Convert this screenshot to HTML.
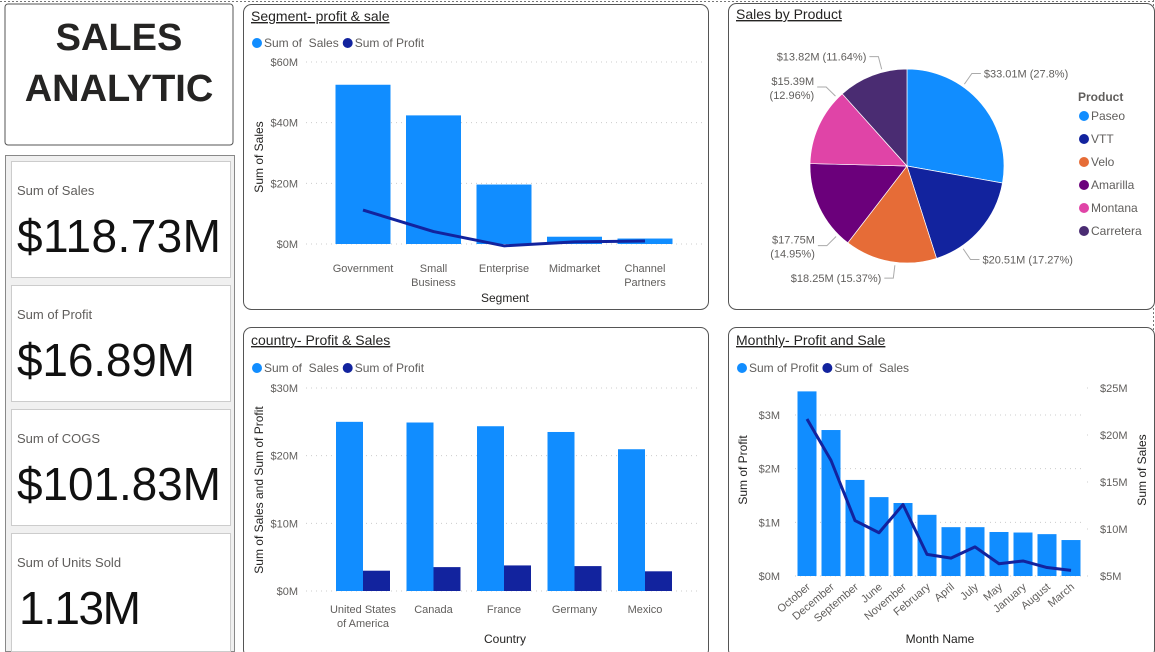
<!DOCTYPE html>
<html><head><meta charset="utf-8"><style>
html,body{margin:0;padding:0;background:#fff;}
svg{display:block;font-family:"Liberation Sans",sans-serif;}
.t{fill:#605e5c;font-size:11px;}
.lg{fill:#605e5c;font-size:12px;white-space:pre;}
.h{fill:#252423;font-size:14px;text-decoration:underline;}
.ax{fill:#252423;font-size:12px;}
</style></head><body>
<svg id="root" width="1155" height="652" viewBox="0 0 1155 652" xmlns="http://www.w3.org/2000/svg">
<line x1="0" y1="1.5" x2="1155" y2="1.5" stroke="#777" stroke-dasharray="2,2"/>
<line x1="1153.5" y1="0" x2="1153.5" y2="652" stroke="#777" stroke-dasharray="2,2"/>
<g>
<rect x="5" y="4" width="228" height="141" rx="3" fill="#fff" stroke="#555" stroke-width="1"/>
<text x="119" y="50" text-anchor="middle" font-size="38" font-weight="bold" fill="#252423">SALES</text>
<text x="119" y="101" text-anchor="middle" font-size="38" font-weight="bold" fill="#252423">ANALYTIC</text>
</g>
<rect x="5.5" y="155.5" width="229" height="496" fill="#f0f0f0" stroke="#888"/>
<g><rect x="11.5" y="161.5" width="219" height="116" fill="#fff" stroke="#ccc"/>
<text x="17" y="195" font-size="13" fill="#605e5c">Sum of Sales</text>
<text x="17" y="252" font-size="46" fill="#111" textLength="204">$118.73M</text></g>
<g><rect x="11.5" y="285.5" width="219" height="116" fill="#fff" stroke="#ccc"/>
<text x="17" y="319" font-size="13" fill="#605e5c">Sum of Profit</text>
<text x="17" y="376" font-size="46" fill="#111" textLength="178">$16.89M</text></g>
<g><rect x="11.5" y="409.5" width="219" height="116" fill="#fff" stroke="#ccc"/>
<text x="17" y="443" font-size="13" fill="#605e5c">Sum of COGS</text>
<text x="17" y="500" font-size="46" fill="#111" textLength="204">$101.83M</text></g>
<g><rect x="11.5" y="533.5" width="219" height="118" fill="#fff" stroke="#ccc"/>
<text x="17" y="567" font-size="13" fill="#605e5c">Sum of Units Sold</text>
<text x="19" y="624" font-size="46" fill="#111" textLength="122">1.13M</text></g>
<rect x="243.5" y="4.5" width="465" height="305" rx="8" fill="#fff" stroke="#555"/>
<rect x="728.5" y="3.5" width="426" height="306" rx="8" fill="#fff" stroke="#555"/>
<rect x="243.5" y="327.5" width="465" height="330" rx="8" fill="#fff" stroke="#555"/>
<rect x="728.5" y="327.5" width="426" height="330" rx="8" fill="#fff" stroke="#555"/>
<text x="251" y="21" class="h">Segment- profit &amp; sale</text>
<text x="736" y="19" class="h">Sales by Product</text>
<text x="251" y="345" class="h">country- Profit &amp; Sales</text>
<text x="736" y="345" class="h">Monthly- Profit and Sale</text>
<g id="g"></g>
</svg>
<script>
// Segment chart data
const segCategories = [["Government"],["Small","Business"],["Enterprise"],["Midmarket"],["Channel","Partners"]];
const segSales = [52.5, 42.4, 19.6, 2.4, 1.8];
const segProfit = [11.2, 4.1, -0.6, 0.7, 1.0];
const segTicks = [0, 20, 40, 60];
// Country chart data
const ctryCategories = [["United States","of America"],["Canada"],["France"],["Germany"],["Mexico"]];
const ctrySales = [25.0, 24.9, 24.35, 23.5, 20.95];
const ctryProfit = [3.0, 3.53, 3.78, 3.68, 2.91];
const ctryTicks = [0, 10, 20, 30];
// Product pie data
const prodNames = ["Paseo","VTT","Velo","Amarilla","Montana","Carretera"];
const prodSales = [33.01, 20.51, 18.25, 17.75, 15.39, 13.82];
const prodColors = ["#118DFF","#12239E","#E66C37","#6B007B","#E044A7","#4A2C72"];
// Monthly data
const months = ["October","December","September","June","November","February","April","July","May","January","August","March"];
const monProfit = [3.44, 2.72, 1.79, 1.47, 1.36, 1.14, 0.91, 0.91, 0.82, 0.81, 0.78, 0.67];
const monSales = [21.7, 17.3, 10.9, 9.6, 12.6, 7.3, 6.9, 8.1, 6.3, 6.6, 5.9, 5.6];
const monProfitTicks = [0, 1, 2, 3];
const monSalesTicks = [5, 10, 15, 20, 25];

const NS = "http://www.w3.org/2000/svg";
const G = document.getElementById("g");
function mk(tag, attrs, parent, txt){
  const e = document.createElementNS(NS, tag);
  for (const k in attrs) e.setAttribute(k, attrs[k]);
  if (txt !== undefined) e.textContent = txt;
  (parent || G).appendChild(e);
  return e;
}
function legend(x, y, items){
  let cx = x;
  items.forEach(([label, col, nm]) => {
    const c = mk("circle", {cx: cx + 5, cy: y - 4, r: 5, fill: col});
    
    
    const t = mk("text", {x: cx + 12, y: y, class: "lg"}, G, label);
    
    
    let w = 0;
    try { w = t.getComputedTextLength(); } catch (e) { w = 0; }
    if (!w) w = label.length * 6;
    cx += 12 + w + 4;
  });
}
function gridY(ticks, yf, x1, x2, fmt, lx, anchor, nm){
  ticks.forEach(v => {
    const y = yf(v);
    const l = mk("line", {x1: x1, x2: x2, y1: y, y2: y, stroke: "#ccc", "stroke-dasharray": "1,4"});
    
    
    const t = mk("text", {x: lx, y: y + 4, class: "t", "text-anchor": anchor}, G, fmt(v));
    
    
  });
}
function vTitle(x, y, txt, nm){
  const t = mk("text", {x: 0, y: 0, class: "ax", "text-anchor": "middle", transform: `translate(${x},${y}) rotate(-90)`}, G, txt);
  
  
}
function hTitle(x, y, txt, nm){
  const t = mk("text", {x: x, y: y, class: "ax", "text-anchor": "middle"}, G, txt);
  
  
}
function catLabels(cats, xf, y, nm){
  cats.forEach((lines, i) => {
    lines.forEach((ln, j) => {
      const t = mk("text", {x: xf(i), y: y + j * 14, class: "t", "text-anchor": "middle"}, G, ln);
      
      
    });
  });
}

// ---------- Segment ----------
(function(){
  const y0 = 244, pxPer = 182 / 60;
  const yf = v => y0 - v * pxPer;
  const xf = i => 363 + i * 70.5;
  const bw = 55;
  legend(252, 47, [["Sum of  Sales", "#118DFF", "segment-sales"], ["Sum of Profit", "#12239E", "segment-profit"]]);
  gridY(segTicks, yf, 306, 705, v => "$" + v + "M", 298, "end", "segment-y");
  segSales.forEach((v, i) => {
    const r = mk("rect", {x: xf(i) - bw/2, y: Math.min(yf(v), y0), width: bw, height: Math.abs(v * pxPer), fill: "#118DFF"});
    
    
  });
  const p = mk("polyline", {points: segProfit.map((v, i) => xf(i) + "," + yf(v)).join(" "), fill: "none", stroke: "#12239E", "stroke-width": 3, "stroke-linejoin": "round"});
  
  
  catLabels(segCategories, xf, 272, "segment-x");
  vTitle(263, 157, "Sum of Sales", "segment-y-axis-title");
  hTitle(505, 302, "Segment", "segment-x-axis-title");
})();

// ---------- Country ----------
(function(){
  const y0 = 591, pxPer = 203 / 30;
  const yf = v => y0 - v * pxPer;
  const xf = i => 363 + i * 70.5;
  const bw = 27;
  legend(252, 372, [["Sum of  Sales", "#118DFF", "country-sales"], ["Sum of Profit", "#12239E", "country-profit"]]);
  gridY(ctryTicks, yf, 306, 700, v => "$" + v + "M", 298, "end", "country-y");
  ctrySales.forEach((v, i) => {
    const r = mk("rect", {x: xf(i) - bw, y: yf(v), width: bw, height: v * pxPer, fill: "#118DFF"});
    
    
  });
  ctryProfit.forEach((v, i) => {
    const r = mk("rect", {x: xf(i), y: yf(v), width: bw, height: v * pxPer, fill: "#12239E"});
    
    
  });
  catLabels(ctryCategories, xf, 613, "country-x");
  vTitle(263, 490, "Sum of Sales and Sum of Profit", "country-y-axis-title");
  hTitle(505, 643, "Country", "country-x-axis-title");
})();

// ---------- Pie ----------
(function(){
  const cx = 907, cy = 166, R = 97;
  const total = prodSales.reduce((a, b) => a + b, 0);
  let acc = 0;
  prodSales.forEach((v, i) => {
    const a0 = acc / total * 2 * Math.PI, a1 = (acc + v) / total * 2 * Math.PI;
    acc += v;
    const P = a => [cx + R * Math.sin(a), cy - R * Math.cos(a)];
    const [x0, y0] = P(a0), [x1, y1] = P(a1);
    const large = (a1 - a0) > Math.PI ? 1 : 0;
    const s = mk("path", {d: `M${cx},${cy} L${x0},${y0} A${R},${R} 0 ${large} 1 ${x1},${y1} Z`, fill: prodColors[i], stroke: "#fff", "stroke-width": 0.7});
    
    
    const am = (a0 + a1) / 2;
    const vert = Math.cos(am) >= 0 ? (am > Math.PI ? 2 * Math.PI : 0) : Math.PI;
    const al = am + (vert - am) * 0.3;
    const right = Math.sin(am) >= 0;
    const lx0 = cx + (R + 3) * Math.sin(al), ly0 = cy - (R + 3) * Math.cos(al);
    const lx1 = cx + (R + 16) * Math.sin(al), ly1 = cy - (R + 16) * Math.cos(al);
    const lx2 = lx1 + (right ? 9 : -9);
    const ln = mk("polyline", {points: `${lx0},${ly0} ${lx1},${ly1} ${lx2},${ly1}`, fill: "none", stroke: "#aaa"});
    
    
    const pct = (v / total * 100).toFixed(2).replace(/0$/, "");
    const tx = lx2 + (right ? 3 : -3), anchor = right ? "start" : "end";
    const twoLine = !right && Math.abs(Math.cos(am)) < 0.6;
    const lab = "$" + v.toFixed(2) + "M";
    if (twoLine) {
      const t1 = mk("text", {x: tx, y: ly1 - 2, class: "t", "text-anchor": anchor}, G, lab);
      
      
      const t2 = mk("text", {x: tx, y: ly1 + 12, class: "t", "text-anchor": anchor}, G, "(" + pct + "%)");
      
      
    } else {
      const t = mk("text", {x: tx, y: ly1 + 4, class: "t", "text-anchor": anchor}, G, lab + " (" + pct + "%)");
      
      
    }
  });
  const lt = mk("text", {x: 1078, y: 101, "font-size": 12, "font-weight": "bold", fill: "#605e5c"}, G, "Product");
  
  
  prodNames.forEach((n, i) => {
    const y = 116 + i * 23;
    const c = mk("circle", {cx: 1084, cy: y, r: 5, fill: prodColors[i]});
    
    
    const t = mk("text", {x: 1091, y: y + 4, class: "lg"}, G, n);
    
    
  });
})();

// ---------- Monthly ----------
(function(){
  const y0 = 576, pP = 161 / 3, pS = 188 / 20;
  const yP = v => y0 - v * pP;
  const yS = v => y0 - (v - 5) * pS;
  const xf = i => 807 + i * 24;
  const bw = 19;
  legend(737, 372, [["Sum of Profit", "#118DFF", "monthly-profit"], ["Sum of  Sales", "#12239E", "monthly-sales"]]);
  gridY(monProfitTicks, yP, 795, 1085, v => "$" + v + "M", 780, "end", "monthly-left-y");
  monSalesTicks.forEach(v => {
    const y = yS(v);
    const t = mk("text", {x: 1100, y: y + 4, class: "t"}, G, "$" + v + "M");
    
    
    const d = mk("line", {x1: 1087, x2: 1091, y1: y, y2: y, stroke: "#ccc", "stroke-dasharray": "1,3"});
    
    
  });
  monProfit.forEach((v, i) => {
    const r = mk("rect", {x: xf(i) - bw/2, y: yP(v), width: bw, height: v * pP, fill: "#118DFF"});
    
    
  });
  const p = mk("polyline", {points: monSales.map((v, i) => xf(i) + "," + yS(v)).join(" "), fill: "none", stroke: "#12239E", "stroke-width": 3, "stroke-linejoin": "round"});
  
  
  months.forEach((m, i) => {
    const t = mk("text", {x: 0, y: 0, class: "t", "text-anchor": "end", transform: `translate(${xf(i) + 4},${y0 + 12}) rotate(-40)`}, G, m);
    
    
  });
  vTitle(747, 470, "Sum of Profit", "monthly-left-y-axis-title");
  vTitle(1146, 470, "Sum of Sales", "monthly-right-y-axis-title");
  hTitle(940, 643, "Month Name", "monthly-x-axis-title");
})();
</script>
</body></html>
